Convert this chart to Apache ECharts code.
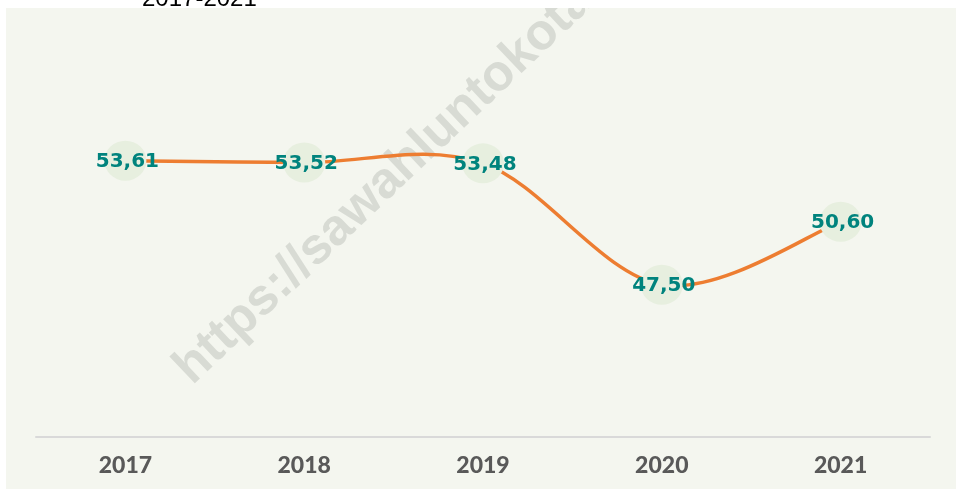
<!DOCTYPE html>
<html>
<head>
<meta charset="utf-8">
<script src="https://cdn.jsdelivr.net/npm/echarts@6/dist/echarts.min.js"></script>
<style>
html,body{margin:0;padding:0;background:#ffffff;}
#c{width:956px;height:489px;}
</style>
</head>
<body>
<div id="c"></div>
<script>
var categories = ['2017', '2018', '2019', '2020', '2021'];
var values = [53.61, 53.52, 53.48, 47.50, 50.60];
var titleText = '2017-2021';
var watermarkText = 'https://sawahluntokota.bps.go.id';

function pairData() {
  var out = [];
  for (var i = 0; i < values.length; i++) out.push([i, values[i]]);
  return out;
}

var chart = echarts.init(document.getElementById('c'), null, {renderer: 'canvas'});
chart.setOption({
  animation: false,
  backgroundColor: '#ffffff',
  grid: {left: 36, right: 26, top: 31, bottom: 52, containLabel: false},
  xAxis: {
    type: 'category',
    data: categories,
    boundaryGap: true,
    axisLine: {lineStyle: {color: '#d9d9d9', width: 2}},
    axisTick: {show: false},
    axisLabel: {color: '#595959', fontFamily: 'Lato', fontWeight: 900, fontSize: 23, margin: 17}
  },
  yAxis: {
    type: 'value', min: 40, max: 60, show: false,
    splitLine: {show: false}
  },
  graphic: [
    {type: 'rect', z: 0, silent: true, shape: {x: 6, y: 8, width: 950, height: 481}, style: {fill: '#f4f6ef'}},
    {type: 'text', z: 1, silent: true, x: 200, y: 394, rotation: 43.5 * Math.PI / 180,
      style: {text: watermarkText, fill: '#d8dbd4', font: 'bold 51px "Liberation Sans", Arial, sans-serif', textAlign: 'left', textVerticalAlign: 'bottom'}},
    {type: 'rect', z: 3, silent: true, shape: {x: 0, y: 0, width: 956, height: 8}, style: {fill: '#ffffff'}},
    {type: 'text', z: 4, silent: true, x: 142, y: -0.5,
      style: {text: titleText, fill: '#000000', font: '24px "Liberation Sans", Arial, sans-serif', textAlign: 'left', textVerticalAlign: 'middle'}}
  ],
  series: [{
    type: 'custom',
    coordinateSystem: 'cartesian2d',
    data: pairData(),
    encode: {x: 0, y: 1},
    z: 2,
    silent: true,
    renderItem: function (params, api) {
      var i = params.dataIndex;
      var n = values.length;
      if (i >= n - 1) return null;
      var pt = function (k) {
        k = Math.max(0, Math.min(n - 1, k));
        return api.coord([k, values[k]]);
      };
      var p0 = pt(i - 1), p1 = pt(i), p2 = pt(i + 1), p3 = pt(i + 2);
      return {
        type: 'bezierCurve',
        shape: {
          x1: p1[0], y1: p1[1], x2: p2[0], y2: p2[1],
          cpx1: p1[0] + (p2[0] - p0[0]) / 6, cpy1: p1[1] + (p2[1] - p0[1]) / 6,
          cpx2: p2[0] - (p3[0] - p1[0]) / 6, cpy2: p2[1] - (p3[1] - p1[1]) / 6
        },
        style: {stroke: '#ed7d31', lineWidth: 3.5, fill: 'none', lineCap: 'round'}
      };
    }
  }, {
    type: 'scatter',
    data: values,
    z: 3,
    symbol: 'circle',
    symbolSize: [42, 40],
    itemStyle: {color: '#e7efdf', borderWidth: 0, opacity: 1},
    label: {
      show: true, position: 'inside', offset: [2, 1],
      color: '#00837d', fontFamily: "'DejaVu Sans', Verdana, sans-serif", fontWeight: 'bold', fontSize: 20,
      formatter: function (p) { return p.value.toFixed(2).replace('.', ','); }
    }
  }]
});
</script>
</body>
</html>
